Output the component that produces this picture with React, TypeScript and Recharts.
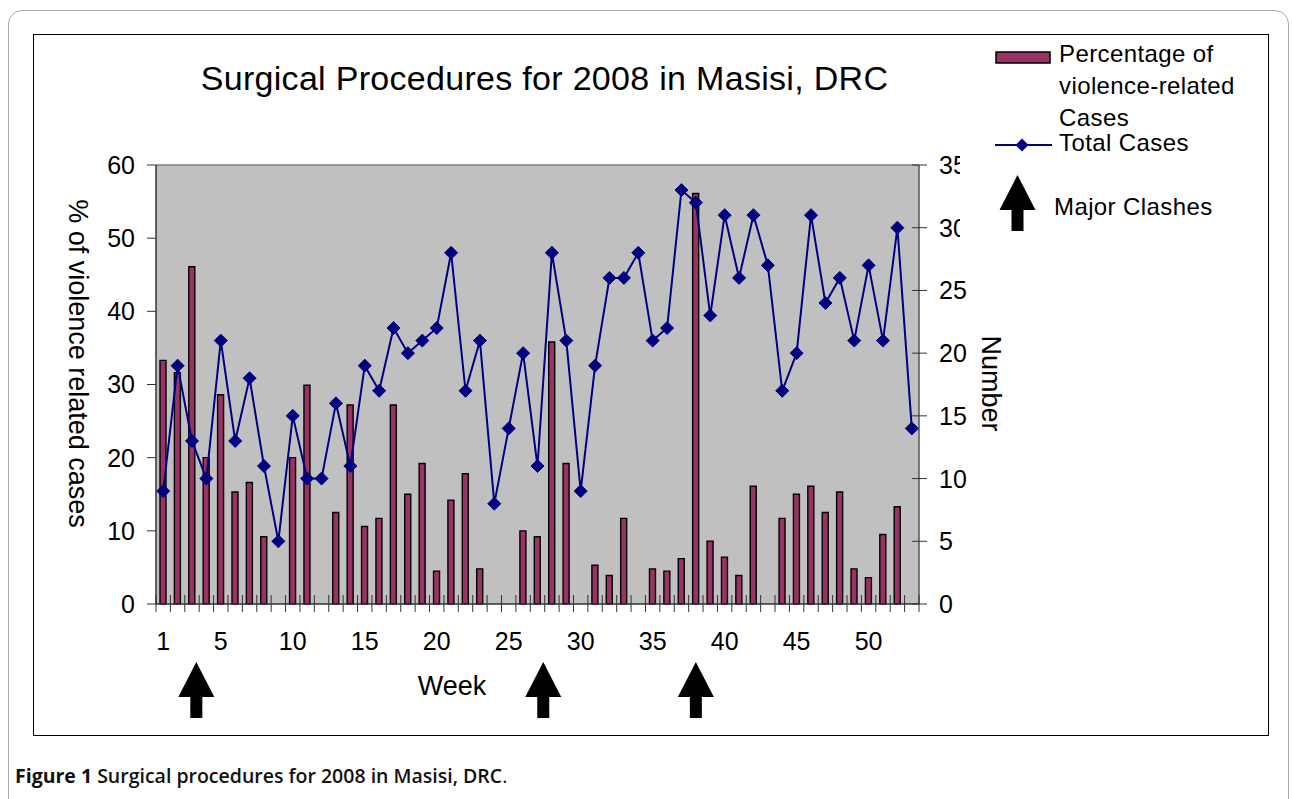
import React from 'react'
import {
  ComposedChart,
  Bar,
  Line,
  XAxis,
  YAxis,
  CartesianGrid,
  ReferenceLine,
  ReferenceDot,
  Legend,
  Label,
} from 'recharts'

// % of cases that were violence related, week 1..53
const PCT_VIOLENCE = [
  33.3, 31.6, 46.1, 20.0, 28.6, 15.3, 16.6, 9.2, 0, 20.0,
  29.9, 0, 12.5, 27.2, 10.6, 11.7, 27.2, 15.0, 19.2, 4.5,
  14.2, 17.8, 4.8, 0, 0, 10.0, 9.2, 35.8, 19.2, 0,
  5.3, 3.9, 11.7, 0, 4.8, 4.5, 6.2, 56.1, 8.6, 6.4,
  3.9, 16.1, 0, 11.7, 15.0, 16.1, 12.5, 15.3, 4.8, 3.6,
  9.5, 13.3, 0,
]

// total surgical cases, week 1..53
const TOTAL_CASES = [
  9, 19, 13, 10, 21, 13, 18, 11, 5, 15,
  10, 10, 16, 11, 19, 17, 22, 20, 21, 22,
  28, 17, 21, 8, 14, 20, 11, 28, 21, 9,
  19, 26, 26, 28, 21, 22, 33, 32, 23, 31,
  26, 31, 27, 17, 20, 31, 24, 26, 21, 27,
  21, 30, 14,
]

const WEEK_LABELS = [1, 5, 10, 15, 20, 25, 30, 35, 40, 45, 50]
const PCT_TICKS = [0, 10, 20, 30, 40, 50, 60]
const COUNT_TICKS = [0, 5, 10, 15, 20, 25, 30, 35]
const CLASH_WEEKS = [3.3, 27.4, 38]

const BAR_NAME = 'Percentage of violence-related Cases'
const LINE_NAME = 'Total Cases'

const data = PCT_VIOLENCE.map((pct, i) => ({ week: i + 1, pct, total: TOTAL_CASES[i] }))
const boundaries = [...data.map((d) => d.week - 0.5), data.length + 0.5]
const xTicks = [...boundaries, ...WEEK_LABELS].sort((a, b) => a - b)

const FONT = '"Liberation Sans", Arial, sans-serif'
const PLUM = '#993366'
const NAVY = '#000080'
const AXIS = '#333'

function arrowPath(cx: number, top: number) {
  return `M${cx} ${top} L${cx + 18} ${top + 35} L${cx + 6} ${top + 35} L${cx + 6} ${top + 56} L${cx - 6} ${top + 56} L${cx - 6} ${top + 35} L${cx - 18} ${top + 35} Z`
}

function WeekTick(props: any) {
  const { x, y, payload } = props
  const v = payload.value
  if (!Number.isInteger(v))
    return <line x1={x} x2={x} y1={y - 9} y2={y + 8} stroke={AXIS} strokeWidth={1} />
  return (
    <text x={x} y={y + 46} textAnchor="middle" fontSize={25} fontFamily={FONT} fill="#000">
      {v}
    </text>
  )
}

function CountTick(props: any) {
  const { x, y, payload } = props
  return (
    <g>
      <line x1={x - 7} x2={x + 8} y1={y} y2={y} stroke={AXIS} strokeWidth={1} />
      <text x={x + 20} y={y} dy="0.36em" fontSize={25} fontFamily={FONT} fill="#000">
        {payload.value}
      </text>
    </g>
  )
}

function renderDiamond(props: any) {
  const { cx, cy, index } = props
  const r = 6.5
  return (
    <path
      key={`d-${index}`}
      d={`M${cx} ${cy - r} L${cx + r} ${cy} L${cx} ${cy + r} L${cx - r} ${cy} Z`}
      fill={NAVY}
      stroke={NAVY}
    />
  )
}

function ClashArrow(props: any) {
  const { cx, cy } = props
  return <path d={arrowPath(cx, cy + 58)} fill="#000" />
}

function LegendBox() {
  const txt = { fontSize: 24, fontFamily: FONT, fill: '#000', letterSpacing: 0.4 }
  return (
    <svg width={307} height={205} style={{ display: 'block' }}>
      <rect x={36} y={16} width={54} height={11} fill={PLUM} stroke="#000" strokeWidth={1.5} />
      <text x={99} y={26} {...txt}>Percentage of</text>
      <text x={99} y={58} {...txt}>violence-related</text>
      <text x={99} y={90} {...txt}>Cases</text>
      <line x1={35} x2={92} y1={109} y2={109} stroke={NAVY} strokeWidth={2} />
      <path d="M62 102.5 L68.5 109 L62 115.5 L55.5 109 Z" fill={NAVY} />
      <text x={99} y={115} {...txt}>{LINE_NAME}</text>
      <path d={arrowPath(57.5, 139)} fill="#000" />
      <text x={94} y={179} {...txt}>Major Clashes</text>
    </svg>
  )
}

export default function App() {
  return (
    <div style={{ position: 'relative', width: 1292, height: 799, background: '#fff', overflow: 'hidden' }}>
      <style>{'body{margin:0}'}</style>
      <div
        style={{
          position: 'absolute',
          left: 8,
          top: 10,
          width: 1279,
          height: 830,
          border: '1px solid #a8a8a8',
          borderRadius: 14,
        }}
      />
      <div
        style={{
          position: 'absolute',
          left: 33,
          top: 34,
          width: 1234,
          height: 700,
          border: '1px solid #000',
          background: '#fff',
        }}
      >
        <div
          style={{
            position: 'absolute',
            left: 0,
            top: 26,
            width: 1021,
            textAlign: 'center',
            fontFamily: FONT,
            fontSize: 34,
            lineHeight: '34px',
            color: '#000',
            letterSpacing: 0.3,
            zIndex: 2,
          }}
        >
          Surgical Procedures for 2008 in Masisi, DRC
        </div>
        <ComposedChart
          width={1234}
          height={700}
          data={data}
          margin={{ top: 130, left: 62, right: 289, bottom: 101 }}
        >
          <CartesianGrid
            xAxisId="w"
            yAxisId="left"
            horizontal={false}
            vertical={false}
            fill="#c0c0c0"
          />
          <XAxis
            xAxisId="w"
            type="number"
            dataKey="week"
            domain={[0.5, data.length + 0.5]}
            ticks={xTicks}
            interval={0}
            tick={WeekTick}
            tickLine={false}
            tickSize={0}
            tickMargin={0}
            axisLine={{ stroke: AXIS, strokeWidth: 1.5 }}
            height={30}
          >
            <Label
              content={(p: any) => (
                <text
                  x={p.viewBox.x + 296}
                  y={p.viewBox.y + 91}
                  textAnchor="middle"
                  fontSize={27}
                  fontFamily={FONT}
                  fill="#000"
                >
                  Week
                </text>
              )}
            />
          </XAxis>
          <YAxis
            yAxisId="left"
            domain={[0, 60]}
            ticks={PCT_TICKS}
            interval={0}
            width={60}
            tickSize={9}
            tickMargin={12}
            tick={{ fontSize: 25, fontFamily: FONT, fill: '#000' }}
            tickLine={{ stroke: AXIS }}
            axisLine={{ stroke: AXIS, strokeWidth: 1.5 }}
          >
            <Label
              content={(p: any) => {
                const cx = p.viewBox.x - 17
                const cy = p.viewBox.y + p.viewBox.height / 2 - 21
                return (
                  <text
                    x={cx}
                    y={cy}
                    transform={`rotate(90 ${cx} ${cy})`}
                    textAnchor="middle"
                    dy="0.36em"
                    fontSize={27}
                    fontFamily={FONT}
                    fill="#000"
                  >
                    % of violence related cases
                  </text>
                )
              }}
            />
          </YAxis>
          <YAxis
            yAxisId="right"
            orientation="right"
            domain={[0, 35]}
            ticks={COUNT_TICKS}
            interval={0}
            width={60}
            tickSize={0}
            tickMargin={0}
            tickLine={false}
            tick={CountTick}
            axisLine={{ stroke: '#555', strokeWidth: 1.5 }}
          >
            <Label
              content={(p: any) => {
                const cx = p.viewBox.x + 73
                const cy = p.viewBox.y + p.viewBox.height / 2 - 1
                return (
                  <text
                    x={cx}
                    y={cy}
                    transform={`rotate(90 ${cx} ${cy})`}
                    textAnchor="middle"
                    dy="0.36em"
                    fontSize={27}
                    fontFamily={FONT}
                    fill="#000"
                  >
                    Number
                  </text>
                )
              }}
            />
          </YAxis>
          <ReferenceLine xAxisId="w" yAxisId="left" y={60} stroke="#808080" strokeWidth={1.5} />
          <Bar
            xAxisId="w"
            yAxisId="left"
            dataKey="pct"
            name={BAR_NAME}
            fill={PLUM}
            stroke="#000"
            strokeWidth={1.4}
            barSize={6}
            isAnimationActive={false}
          />
          <Line
            xAxisId="w"
            yAxisId="right"
            type="linear"
            dataKey="total"
            name={LINE_NAME}
            stroke={NAVY}
            strokeWidth={2}
            dot={renderDiamond}
            activeDot={false}
            isAnimationActive={false}
          />
          {CLASH_WEEKS.map((w) => (
            <ReferenceDot
              key={w}
              xAxisId="w"
              yAxisId="left"
              x={w}
              y={0}
              ifOverflow="visible"
              shape={ClashArrow}
            />
          ))}
          <Legend
            layout="vertical"
            align="center"
            verticalAlign="middle"
            content={LegendBox}
            wrapperStyle={{ left: 926, top: 1, width: 307, height: 205, background: '#fff' }}
          />
        </ComposedChart>
      </div>
      <div
        style={{
          position: 'absolute',
          left: 15,
          top: 762,
          fontFamily: '"Open Sans", "Noto Sans", sans-serif',
          fontSize: 19.5,
          color: '#111',
          whiteSpace: 'nowrap',
        }}
      >
        <span style={{ fontWeight: 700 }}>Figure 1</span>
        <span style={{ fontWeight: 600 }}> Surgical procedures for 2008 in Masisi, DRC</span>
        <span>.</span>
      </div>
    </div>
  )
}
